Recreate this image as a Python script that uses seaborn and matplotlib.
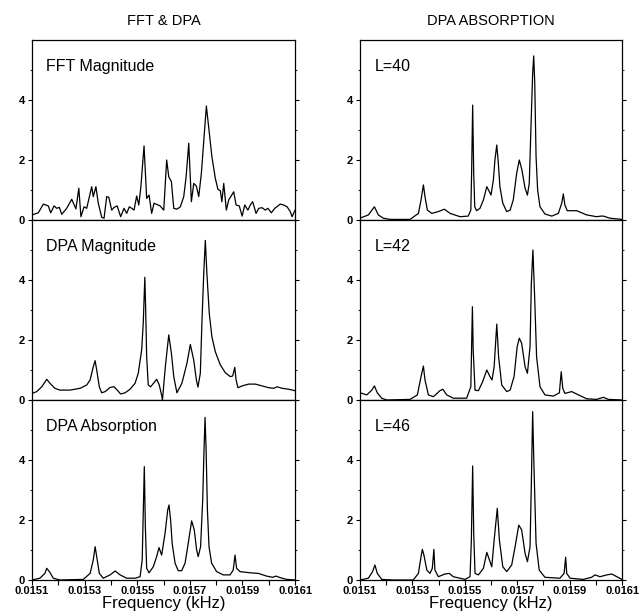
import numpy as np
import pandas as pd
import matplotlib
matplotlib.use("Agg")
import matplotlib.pyplot as plt
from matplotlib.ticker import FixedLocator
import seaborn as sns

# ---------------- data (frequency in kHz, magnitude) ----------------
fft_f = [0.015100, 0.015124, 0.015143, 0.015162, 0.015171, 0.015184, 0.015194, 0.015204,
         0.015213, 0.015232, 0.015251, 0.015267, 0.015278, 0.015286, 0.015298, 0.015308,
         0.015327, 0.015333, 0.015343, 0.015352, 0.015365, 0.015374, 0.015384, 0.015392,
         0.015403, 0.015412, 0.015424, 0.015437, 0.015450, 0.015460, 0.015470, 0.015479,
         0.015488, 0.015498, 0.015506, 0.015514, 0.015526, 0.015536, 0.015545, 0.015555,
         0.015564, 0.015587, 0.015601, 0.015612, 0.015620, 0.015630, 0.015639, 0.015651,
         0.015664, 0.015677, 0.015686, 0.015696, 0.015706, 0.015715, 0.015725, 0.015734,
         0.015744, 0.015763, 0.015784, 0.015797, 0.015807, 0.015816, 0.015822, 0.015829,
         0.015839, 0.015848, 0.015867, 0.015876, 0.015888, 0.015899, 0.015909, 0.015921,
         0.015930, 0.015939, 0.015952, 0.015962, 0.015975, 0.015987, 0.015997, 0.016010,
         0.016023, 0.016035, 0.016044, 0.016057, 0.016070, 0.016082, 0.016089, 0.016100]
fft_v = [0.17, 0.24, 0.53, 0.47, 0.24, 0.47, 0.39, 0.42,
         0.19, 0.39, 0.69, 0.37, 1.06, 0.11, 0.44, 0.39,
         1.11, 0.78, 1.11, 0.56, 0.09, 0.06, 0.78, 0.76,
         0.33, 0.42, 0.47, 0.11, 0.39, 0.22, 0.44, 0.39,
         0.33, 0.80, 0.50, 1.11, 2.47, 0.72, 0.83, 0.22,
         0.56, 0.47, 0.33, 2.00, 1.44, 1.28, 0.39, 0.36,
         0.44, 0.78, 1.44, 2.56, 0.61, 1.22, 1.13, 0.78,
         1.56, 3.80, 2.11, 1.39, 1.02, 0.98, 0.61, 1.22,
         0.33, 0.67, 0.94, 0.50, 0.47, 0.13, 0.50, 0.33,
         0.50, 0.61, 0.22, 0.39, 0.41, 0.33, 0.39, 0.24,
         0.39, 0.47, 0.53, 0.50, 0.44, 0.28, 0.11, 0.33]

dpam_f = [0.015100, 0.015118, 0.015137, 0.015156, 0.015168, 0.015187, 0.015206, 0.015244,
          0.015283, 0.015308, 0.015321, 0.015333, 0.015340, 0.015346, 0.015356, 0.015365,
          0.015378, 0.015397, 0.015412, 0.015424, 0.015437, 0.015454, 0.015473, 0.015492,
          0.015504, 0.015517, 0.015523, 0.015529, 0.015532, 0.015536, 0.015542, 0.015551,
          0.015564, 0.015574, 0.015584, 0.015594, 0.015596, 0.015607, 0.015620, 0.015630,
          0.015639, 0.015651, 0.015670, 0.015689, 0.015702, 0.015715, 0.015725, 0.015731,
          0.015740, 0.015746, 0.015753, 0.015759, 0.015765, 0.015774, 0.015784, 0.015797,
          0.015816, 0.015835, 0.015854, 0.015863, 0.015871, 0.015876, 0.015883, 0.015899,
          0.015924, 0.015949, 0.015975, 0.016000, 0.016019, 0.016032, 0.016051, 0.016076,
          0.016100]
dpam_v = [0.22, 0.28, 0.44, 0.69, 0.56, 0.39, 0.33, 0.33,
          0.39, 0.50, 0.67, 1.11, 1.31, 1.00, 0.44, 0.24,
          0.28, 0.42, 0.44, 0.33, 0.20, 0.24, 0.36, 0.56,
          0.89, 1.67, 2.56, 4.09, 3.10, 1.44, 0.50, 0.44,
          0.58, 0.69, 0.50, 0.11, 0.00, 1.11, 2.17, 1.56,
          0.78, 0.24, 0.56, 1.22, 1.85, 1.33, 0.67, 0.43,
          0.89, 2.56, 4.22, 5.32, 4.22, 2.89, 2.11, 1.61,
          1.17, 0.91, 0.78, 0.80, 1.09, 0.67, 0.41, 0.47,
          0.53, 0.53, 0.47, 0.41, 0.39, 0.44, 0.39, 0.36,
          0.31]

dpaa_f = [0.015100, 0.015130, 0.015149, 0.015156, 0.015166, 0.015181, 0.015206, 0.015295,
          0.015321, 0.015333, 0.015340, 0.015346, 0.015356, 0.015371, 0.015397, 0.015416,
          0.015435, 0.015460, 0.015492, 0.015511, 0.015519, 0.015527, 0.015531, 0.015536,
          0.015545, 0.015561, 0.015574, 0.015583, 0.015593, 0.015606, 0.015616, 0.015621,
          0.015627, 0.015633, 0.015644, 0.015656, 0.015669, 0.015682, 0.015694, 0.015707,
          0.015717, 0.015726, 0.015732, 0.015741, 0.015749, 0.015754, 0.015758, 0.015762,
          0.015767, 0.015773, 0.015783, 0.015802, 0.015827, 0.015853, 0.015865, 0.015872,
          0.015878, 0.015891, 0.015929, 0.015961, 0.015992, 0.016015, 0.016028, 0.016043,
          0.016068, 0.016100]
dpaa_v = [0.00, 0.06, 0.22, 0.39, 0.28, 0.06, 0.00, 0.02,
          0.22, 0.67, 1.11, 0.78, 0.22, 0.06, 0.17, 0.30,
          0.17, 0.06, 0.06, 0.11, 0.67, 3.78, 1.78, 0.39,
          0.24, 0.44, 0.78, 1.08, 0.83, 1.56, 2.33, 2.50,
          2.00, 1.22, 0.56, 0.31, 0.31, 0.56, 1.22, 1.97,
          1.67, 1.00, 0.78, 1.11, 2.67, 4.33, 5.42, 4.33,
          2.33, 1.11, 0.56, 0.28, 0.17, 0.17, 0.33, 0.83,
          0.39, 0.28, 0.24, 0.22, 0.13, 0.09, 0.13, 0.08,
          0.02, 0.00]

l40_f = [0.015100, 0.015132, 0.015155, 0.015170, 0.015189, 0.015215, 0.015291, 0.015323,
         0.015333, 0.015342, 0.015348, 0.015357, 0.015374, 0.015399, 0.015422, 0.015444,
         0.015482, 0.015513, 0.015523, 0.015526, 0.015530, 0.015534, 0.015538, 0.015545,
         0.015558, 0.015571, 0.015584, 0.015594, 0.015600, 0.015609, 0.015615, 0.015622,
         0.015628, 0.015634, 0.015645, 0.015660, 0.015673, 0.015685, 0.015698, 0.015708,
         0.015718, 0.015730, 0.015739, 0.015746, 0.015753, 0.015759, 0.015763, 0.015767,
         0.015772, 0.015778, 0.015787, 0.015806, 0.015832, 0.015857, 0.015870, 0.015876,
         0.015882, 0.015891, 0.015927, 0.015965, 0.016003, 0.016019, 0.016029, 0.016054,
         0.016100]
l40_v = [0.06, 0.17, 0.44, 0.17, 0.06, 0.02, 0.02, 0.22,
         0.67, 1.17, 0.78, 0.33, 0.22, 0.28, 0.36, 0.22,
         0.11, 0.13, 0.33, 1.56, 3.83, 1.56, 0.44, 0.31,
         0.39, 0.67, 1.11, 0.94, 0.83, 1.33, 2.00, 2.50,
         1.89, 1.11, 0.56, 0.28, 0.33, 0.67, 1.56, 2.00,
         1.67, 1.06, 0.83, 1.22, 3.22, 4.89, 5.47, 4.56,
         2.11, 1.00, 0.44, 0.20, 0.13, 0.22, 0.56, 0.87,
         0.50, 0.31, 0.31, 0.17, 0.11, 0.13, 0.13, 0.06,
         0.02]

l42_f = [0.015100, 0.015126, 0.015145, 0.015155, 0.015166, 0.015183, 0.015202, 0.015291,
         0.015319, 0.015333, 0.015342, 0.015348, 0.015361, 0.015380, 0.015405, 0.015416,
         0.015431, 0.015456, 0.015507, 0.015523, 0.015529, 0.015532, 0.015539, 0.015552,
         0.015568, 0.015584, 0.015596, 0.015604, 0.015612, 0.015622, 0.015629, 0.015641,
         0.015660, 0.015673, 0.015688, 0.015700, 0.015708, 0.015717, 0.015730, 0.015739,
         0.015749, 0.015754, 0.015760, 0.015767, 0.015774, 0.015787, 0.015806, 0.015838,
         0.015861, 0.015868, 0.015874, 0.015882, 0.015908, 0.015927, 0.015965, 0.016003,
         0.016029, 0.016048, 0.016100]
l42_v = [0.24, 0.17, 0.33, 0.47, 0.24, 0.06, 0.00, 0.02,
         0.17, 0.78, 1.13, 0.67, 0.17, 0.11, 0.31, 0.36,
         0.17, 0.06, 0.06, 0.44, 3.11, 1.67, 0.33, 0.31,
         0.61, 1.00, 0.78, 0.67, 1.11, 2.53, 1.44, 0.50,
         0.28, 0.33, 0.78, 1.78, 2.06, 1.89, 1.11, 0.89,
         1.78, 3.89, 5.00, 3.33, 1.44, 0.44, 0.17, 0.13,
         0.24, 0.94, 0.39, 0.22, 0.28, 0.20, 0.04, 0.02,
         0.09, 0.02, 0.00]

l46_f = [0.015100, 0.015132, 0.015148, 0.015157, 0.015166, 0.015183, 0.015227, 0.015303,
         0.015323, 0.015333, 0.015338, 0.015344, 0.015355, 0.015367, 0.015376, 0.015382,
         0.015386, 0.015399, 0.015424, 0.015441, 0.015456, 0.015501, 0.015520, 0.015525,
         0.015530, 0.015534, 0.015539, 0.015552, 0.015571, 0.015584, 0.015594, 0.015603,
         0.015612, 0.015624, 0.015632, 0.015645, 0.015660, 0.015679, 0.015692, 0.015706,
         0.015717, 0.015730, 0.015739, 0.015749, 0.015754, 0.015759, 0.015764, 0.015772,
         0.015784, 0.015806, 0.015863, 0.015879, 0.015885, 0.015889, 0.015902, 0.015952,
         0.015984, 0.015997, 0.016016, 0.016042, 0.016061, 0.016080, 0.016100]
l46_v = [0.00, 0.06, 0.28, 0.50, 0.22, 0.02, 0.00, 0.00,
         0.22, 0.78, 1.02, 0.83, 0.33, 0.22, 0.39, 1.02,
         0.33, 0.11, 0.20, 0.22, 0.11, 0.02, 0.11, 1.33,
         3.80, 1.56, 0.22, 0.17, 0.39, 0.92, 0.67, 0.44,
         1.33, 2.39, 1.33, 0.44, 0.28, 0.50, 1.11, 1.83,
         1.67, 0.89, 0.61, 1.11, 3.22, 5.61, 3.78, 1.22,
         0.33, 0.09, 0.06, 0.22, 0.76, 0.22, 0.06, 0.02,
         0.09, 0.17, 0.11, 0.17, 0.20, 0.11, 0.02]

col_titles = ["FFT & DPA", "DPA ABSORPTION"]
panel_labels = [["FFT Magnitude", "L=40"],
                ["DPA Magnitude", "L=42"],
                ["DPA Absorption", "L=46"]]
series = [[(fft_f, fft_v), (l40_f, l40_v)],
          [(dpam_f, dpam_v), (l42_f, l42_v)],
          [(dpaa_f, dpaa_v), (l46_f, l46_v)]]
x_ticks = [0.0151, 0.0153, 0.0155, 0.0157, 0.0159, 0.0161]
x_minor = [0.0152, 0.0154, 0.0156, 0.0158, 0.0160]
x_tick_labels = ["0.0151", "0.0153", "0.0155", "0.0157", "0.0159", "0.0161"]
y_ticks = [0, 2, 4]
y_minor = [1, 3, 5]
y_tick_labels = ["0", "2", "4"]
x_label = "Frequency (kHz)"

# ---------------- figure ----------------
sns.set_theme(style="ticks")
plt.rcParams['font.family'] = ['Liberation Sans', 'DejaVu Sans']

W, H = 641, 613
fig = plt.figure(figsize=(W / 100, H / 100), dpi=100)
fig.patch.set_facecolor("white")

col_left = [32, 360]
col_width = [263, 262]
row_top = [40, 220, 400]
row_h = 180

for r in range(3):
    for c in range(2):
        ax = fig.add_axes([col_left[c] / W, 1 - (row_top[r] + row_h) / H,
                           col_width[c] / W, row_h / H])
        ax.set_facecolor("white")
        fx, fy = series[r][c]
        df = pd.DataFrame({"f": fx, "v": fy})
        sns.lineplot(data=df, x="f", y="v", ax=ax, color="black", linewidth=0.9,
                     estimator=None, sort=False)
        ax.set_xlim(0.0151, 0.0161)
        ax.set_ylim(0, 6)
        for s in ax.spines.values():
            s.set_visible(True)
            s.set_color("black")
            s.set_linewidth(0.9)
        ax.yaxis.set_major_locator(FixedLocator(y_ticks))
        ax.set_yticklabels(y_tick_labels)
        ax.yaxis.set_minor_locator(FixedLocator(y_minor))
        ax.xaxis.set_major_locator(FixedLocator(x_ticks))
        ax.xaxis.set_minor_locator(FixedLocator(x_minor))
        ax.tick_params(axis="y", which="major", direction="out", length=3, width=0.8,
                       left=True, right=True, labelleft=True, labelright=False,
                       labelsize=8, pad=2, colors="black")
        ax.tick_params(axis="y", which="minor", direction="out", length=1.5, width=0.8,
                       left=True, right=True)
        ax.tick_params(axis="x", which="both", direction="out", length=3.5, width=0.8,
                       bottom=True, top=False, labelsize=8, pad=1, colors="black")
        for lab in ax.get_yticklabels():
            lab.set_fontweight("bold")
        if r == 2:
            ax.set_xticklabels(x_tick_labels)
            for lab in ax.get_xticklabels():
                lab.set_fontweight("bold")
            ax.set_xlabel(x_label, fontsize=12, labelpad=0, color="black")
        else:
            ax.set_xticklabels([])
            ax.set_xlabel("")
        ax.set_ylabel("")
        ax.text(0.055, 0.855, panel_labels[r][c], transform=ax.transAxes,
                fontsize=11.5, ha="left", va="center", color="black")
        if r == 0:
            ax.set_title(col_titles[c], fontsize=10.5, pad=11, color="black")

fig.savefig("out.png", dpi=100, facecolor="white")
